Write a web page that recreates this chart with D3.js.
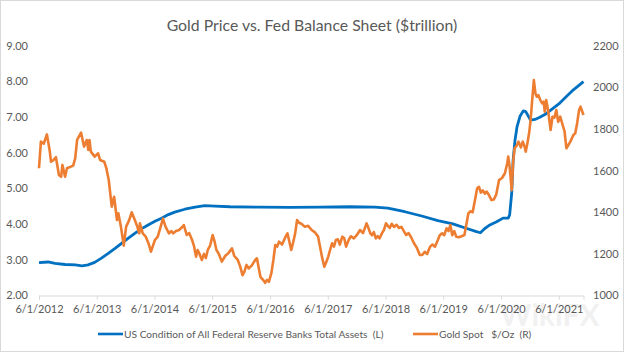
<!DOCTYPE html>
<html>
<head>
<meta charset="utf-8">
<script src="https://cdn.jsdelivr.net/npm/d3@7"></script>
<style>
  body { margin: 0; background: #fff; }
  svg text { font-family: Lato, "Open Sans", sans-serif; fill: #595959; }
</style>
</head>
<body>
<div id="chart"></div>
<script>
var W = 624, H = 352;
var margin = {left: 39, top: 46, right: 40.5, bottom: 56.5};

var chartTitle = "Gold Price vs. Fed Balance Sheet ($trillion)";
var leftTicks = [2, 3, 4, 5, 6, 7, 8, 9];
var rightTicks = [1000, 1200, 1400, 1600, 1800, 2000, 2200];
var xTicks = ["2012-06-01", "2013-06-01", "2014-06-01", "2015-06-01", "2016-06-01",
              "2017-06-01", "2018-06-01", "2019-06-01", "2020-06-01", "2021-06-01"];
var seriesNames = ["US Condition of All Federal Reserve Banks Total Assets  (L)", "Gold Spot   $/Oz  (R)"];
var seriesColors = ["#0070C0", "#ED7D31"];

// Fed total assets, $ trillion (left axis)
var fedAssets = [
  ["2012-06-01",2.92],["2012-07-28",2.94],["2012-09-10",2.90],["2012-11-13",2.87],["2013-01-16",2.86],
  ["2013-02-28",2.83],["2013-04-07",2.86],["2013-05-19",2.93],["2013-07-01",3.05],["2013-08-13",3.18],
  ["2013-09-25",3.32],["2013-11-07",3.47],["2013-12-16",3.60],["2014-01-28",3.74],["2014-03-10",3.87],
  ["2014-04-22",3.98],["2014-06-04",4.08],["2014-07-16",4.17],["2014-08-28",4.27],["2014-10-07",4.34],
  ["2014-12-10",4.42],["2015-02-13",4.48],["2015-04-16",4.52],["2015-06-19",4.51],["2015-09-22",4.49],
  ["2016-03-28",4.48],["2016-10-04",4.47],["2017-04-13",4.48],["2017-10-19",4.49],["2018-03-25",4.48],
  ["2018-06-16",4.45],["2018-10-01",4.35],["2019-01-16",4.23],["2019-04-28",4.10],["2019-08-01",4.01],
  ["2019-10-28",3.88],["2019-12-28",3.79],["2020-01-22",3.76],["2020-02-19",3.88],["2020-03-22",3.98],
  ["2020-05-04",4.07],["2020-06-13",4.17],["2020-07-16",4.17],["2020-07-25",4.26],["2020-08-07",4.87],
  ["2020-08-16",5.80],["2020-08-28",6.36],["2020-09-10",6.74],["2020-09-28",7.02],["2020-10-19",7.18],
  ["2020-11-04",7.16],["2020-11-19",7.04],["2020-12-04",6.92],["2021-01-01",6.94],["2021-02-01",7.00],
  ["2021-03-13",7.10],["2021-04-25",7.25],["2021-06-07",7.40],["2021-07-19",7.58],["2021-09-01",7.77],
  ["2021-11-04",8.00]
];

// Gold spot, $/oz (right axis)
var goldSpot = [
  ["2012-06-01",1612],["2012-06-13",1740],["2012-07-01",1730],["2012-07-21",1775],["2012-08-07",1700],
  ["2012-08-16",1643],["2012-09-01",1652],["2012-09-16",1665],["2012-10-05",1580],["2012-10-19",1571],
  ["2012-10-27",1628],["2012-11-13",1571],["2012-11-25",1612],["2012-12-20",1620],["2013-01-03",1625],
  ["2013-01-16",1660],["2013-01-28",1748],["2013-02-22",1783],["2013-03-13",1716],["2013-03-30",1748],
  ["2013-04-09",1700],["2013-04-16",1748],["2013-04-25",1692],["2013-05-19",1668],["2013-06-10",1684],
  ["2013-06-22",1652],["2013-07-19",1643],["2013-08-01",1612],["2013-08-16",1555],["2013-09-04",1427],
  ["2013-09-13",1459],["2013-09-19",1475],["2013-10-07",1363],["2013-10-16",1395],["2013-11-01",1331],
  ["2013-11-19",1240],["2013-12-04",1331],["2013-12-22",1360],["2014-01-08",1400],["2014-01-28",1363],
  ["2014-02-13",1330],["2014-02-25",1299],["2014-03-01",1347],["2014-03-19",1299],["2014-04-07",1283],
  ["2014-04-25",1250],["2014-05-10",1211],["2014-06-04",1267],["2014-06-22",1283],["2014-07-10",1330],
  ["2014-07-25",1370],["2014-08-10",1331],["2014-09-01",1299],["2014-09-16",1310],["2014-09-28",1299],
  ["2014-10-16",1310],["2014-11-04",1315],["2014-11-22",1328],["2014-12-04",1339],["2014-12-22",1291],
  ["2015-01-07",1300],["2015-01-25",1267],["2015-02-07",1235],["2015-02-19",1187],["2015-03-01",1219],
  ["2015-03-13",1200],["2015-03-28",1171],["2015-04-10",1200],["2015-04-22",1180],["2015-05-04",1219],
  ["2015-05-19",1240],["2015-06-04",1291],["2015-06-16",1260],["2015-06-28",1219],["2015-07-13",1200],
  ["2015-08-01",1163],["2015-08-22",1190],["2015-09-13",1205],["2015-10-04",1227],["2015-10-19",1190],
  ["2015-11-10",1171],["2015-11-25",1140],["2015-12-10",1098],["2015-12-22",1115],["2016-01-04",1147],
  ["2016-01-19",1130],["2016-02-07",1145],["2016-02-28",1171],["2016-03-10",1179],["2016-03-22",1130],
  ["2016-04-01",1090],["2016-04-19",1074],["2016-05-01",1061],["2016-05-13",1075],["2016-05-25",1066],
  ["2016-06-10",1110],["2016-06-22",1171],["2016-07-04",1243],["2016-07-16",1235],["2016-07-28",1259],
  ["2016-08-16",1245],["2016-09-07",1283],["2016-09-19",1299],["2016-10-01",1260],["2016-10-13",1219],
  ["2016-10-25",1255],["2016-11-07",1300],["2016-11-19",1363],["2016-12-01",1350],["2016-12-16",1345],
  ["2017-01-07",1331],["2017-01-28",1335],["2017-02-19",1315],["2017-03-10",1305],["2017-04-01",1283],
  ["2017-04-13",1235],["2017-04-25",1187],["2017-05-10",1138],["2017-05-22",1160],["2017-06-04",1187],
  ["2017-06-16",1220],["2017-06-28",1251],["2017-07-10",1235],["2017-07-22",1267],["2017-08-04",1270],
  ["2017-08-16",1245],["2017-09-01",1283],["2017-09-13",1275],["2017-09-25",1235],["2017-10-10",1265],
  ["2017-10-25",1285],["2017-11-13",1275],["2017-12-01",1290],["2017-12-22",1315],["2018-01-10",1300],
  ["2018-02-01",1347],["2018-02-13",1325],["2018-02-25",1299],["2018-03-07",1290],["2018-03-19",1305],
  ["2018-04-01",1275],["2018-04-13",1285],["2018-04-25",1275],["2018-05-10",1300],["2018-05-22",1315],
  ["2018-06-04",1347],["2018-06-16",1335],["2018-06-28",1325],["2018-07-10",1345],["2018-07-25",1330],
  ["2018-08-10",1340],["2018-08-25",1325],["2018-09-10",1330],["2018-09-25",1310],["2018-10-10",1291],
  ["2018-10-25",1300],["2018-11-10",1280],["2018-11-28",1251],["2018-12-16",1230],["2019-01-04",1195],
  ["2019-01-19",1195],["2019-02-04",1210],["2019-02-19",1200],["2019-03-10",1235],["2019-03-25",1245],
  ["2019-04-10",1235],["2019-04-28",1267],["2019-05-10",1290],["2019-05-25",1299],["2019-06-07",1290],
  ["2019-06-22",1323],["2019-07-04",1310],["2019-07-16",1339],["2019-07-28",1290],["2019-08-10",1310],
  ["2019-08-22",1283],["2019-09-07",1280],["2019-09-25",1285],["2019-10-13",1291],["2019-10-25",1340],
  ["2019-11-07",1395],["2019-11-19",1405],["2019-12-04",1400],["2019-12-19",1459],["2020-01-01",1515],
  ["2020-01-13",1523],["2020-01-25",1495],["2020-02-07",1505],["2020-02-19",1490],["2020-03-01",1500],
  ["2020-03-16",1483],["2020-04-01",1459],["2020-04-16",1462],["2020-05-01",1485],["2020-05-19",1555],
  ["2020-06-07",1565],["2020-06-25",1588],["2020-07-10",1636],["2020-07-16",1668],["2020-07-25",1620],
  ["2020-08-07",1507],["2020-08-16",1640],["2020-08-25",1708],["2020-09-07",1720],["2020-09-19",1740],
  ["2020-10-04",1712],["2020-10-16",1740],["2020-10-28",1715],["2020-11-04",1692],["2020-11-16",1740],
  ["2020-11-25",1780],["2020-12-04",1840],["2020-12-13",1924],["2020-12-25",2036],["2021-01-04",1972],
  ["2021-01-13",1956],["2021-01-22",1964],["2021-02-04",1940],["2021-02-16",1924],["2021-02-25",1932],
  ["2021-03-04",1884],["2021-03-13",1940],["2021-03-25",1892],["2021-04-10",1796],["2021-04-22",1860],
  ["2021-05-04",1855],["2021-05-16",1892],["2021-05-28",1835],["2021-06-10",1860],["2021-06-25",1820],
  ["2021-07-07",1790],["2021-07-19",1708],["2021-08-01",1725],["2021-08-13",1740],["2021-09-01",1772],
  ["2021-09-13",1780],["2021-09-25",1830],["2021-10-07",1892],["2021-10-16",1908],["2021-11-04",1868]
];

var parse = d3.timeParse("%Y-%m-%d");

var svg = d3.select("#chart").append("svg")
    .attr("width", W)
    .attr("height", H);

// chart frame
svg.append("rect")
    .attr("x", 0.5).attr("y", 0.5)
    .attr("width", W - 1).attr("height", H - 1)
    .style("fill", "#fff")
    .style("stroke", "#d9d9d9");

var x = d3.scaleTime()
    .domain([parse(fedAssets[0][0]), parse(fedAssets[fedAssets.length - 1][0])])
    .range([margin.left, W - margin.right]);

var yL = d3.scaleLinear().domain([2, 9]).range([H - margin.bottom, margin.top]);
var yR = d3.scaleLinear().domain([1000, 2200]).range([H - margin.bottom, margin.top]);

svg.append("text")
    .attr("x", 312)
    .attr("y", 25)
    .attr("dy", "0.35em")
    .attr("text-anchor", "middle")
    .style("font-size", "15.8px")
    .text(chartTitle);

// x axis
var xAxis = d3.axisBottom(x)
    .tickValues(xTicks.map(parse))
    .tickSize(4)
    .tickFormat(d3.timeFormat("%-m/%-d/%Y"));

var gx = svg.append("g")
    .attr("transform", "translate(0," + (H - margin.bottom) + ")")
    .call(xAxis);
gx.select(".domain").style("stroke", "#d9d9d9");
gx.selectAll(".tick line").style("stroke", "#d9d9d9");
gx.selectAll(".tick text")
    .attr("dy", "0.35em").attr("y", 13.5)
    .style("font-size", "11px");

// left axis labels
svg.selectAll("text.yl")
    .data(leftTicks)
    .enter().append("text")
    .attr("class", "yl")
    .attr("x", 28)
    .attr("y", function(d) { return yL(d); })
    .attr("dy", "0.35em")
    .attr("text-anchor", "end")
    .style("font-size", "11px")
    .text(function(d) { return d3.format(".2f")(d); });

// right axis labels
svg.selectAll("text.yr")
    .data(rightTicks)
    .enter().append("text")
    .attr("class", "yr")
    .attr("x", 593)
    .attr("y", function(d) { return yR(d); })
    .attr("dy", "0.35em")
    .style("font-size", "11px")
    .text(function(d) { return d; });

var lineL = d3.line()
    .x(function(d) { return x(parse(d[0])); })
    .y(function(d) { return yL(d[1]); });

var lineR = d3.line()
    .x(function(d) { return x(parse(d[0])); })
    .y(function(d) { return yR(d[1]); });

svg.append("path")
    .datum(fedAssets)
    .attr("d", lineL)
    .style("fill", "none")
    .style("stroke", seriesColors[0])
    .style("stroke-width", 2.8)
    .style("stroke-linejoin", "round");

svg.append("path")
    .datum(goldSpot)
    .attr("d", lineR)
    .style("fill", "none")
    .style("stroke", seriesColors[1])
    .style("stroke-width", 2.6)
    .style("stroke-linejoin", "round");

// legend
var legendX = [98, 413];
var legend = svg.selectAll("g.legend")
    .data(seriesNames)
    .enter().append("g")
    .attr("class", "legend")
    .attr("transform", function(d, i) { return "translate(" + legendX[i] + ",334)"; });

legend.append("line")
    .attr("x1", 0).attr("x2", 25)
    .style("stroke", function(d, i) { return seriesColors[i]; })
    .style("stroke-width", 2.6);

legend.append("text")
    .attr("x", 26)
    .attr("dy", "0.35em")
    .style("font-size", "10.2px")
    .style("white-space", "pre")
    .text(function(d) { return d; });

// watermark
svg.append("text")
    .attr("x", 500).attr("y", 326)
    .style("font-size", "30px")
    .style("font-weight", "bold")
    .style("fill", "#000")
    .style("opacity", 0.05)
    .text("WikiFX");
</script>
</body>
</html>
